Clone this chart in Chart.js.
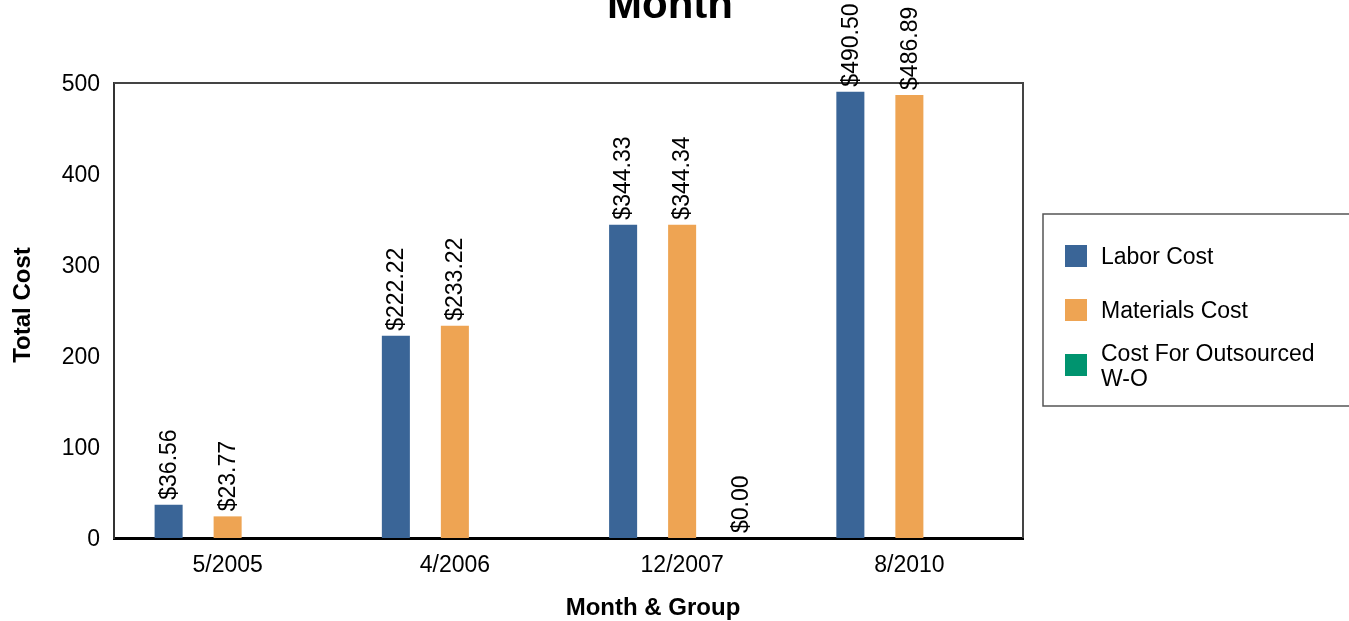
<!DOCTYPE html>
<html>
<head>
<meta charset="utf-8">
<script src="https://cdn.jsdelivr.net/npm/chart.js@4"></script>
<style>
html,body{margin:0;padding:0;background:#fff;}
#wrap{width:1349px;height:621px;position:relative;}
</style>
</head>
<body>
<div id="wrap"><canvas id="c" width="1349" height="621"></canvas></div>
<script>
const categories = ["5/2005", "4/2006", "12/2007", "8/2010"];
const laborCost = [36.56, 222.22, 344.33, 490.50];
const materialsCost = [23.77, 233.22, 344.34, 486.89];
const outsourcedCost = [null, null, 0.00, null];
const seriesNames = ["Labor Cost", "Materials Cost", ["Cost For Outsourced", "W-O"]];
const seriesColors = ["#3a6597", "#eea453", "#00946f"];
const yTicks = [0, 100, 200, 300, 400, 500];
const titleText = "Month";
const xTitle = "Month & Group";
const yTitle = "Total Cost";

const FONT = "'Liberation Sans', Arial, Helvetica, sans-serif";

const drawPlugin = {
  id: 'custom',
  afterDraw(chart) {
    const ctx = chart.ctx;
    const a = chart.chartArea;
    ctx.save();
    // plot frame top/right
    ctx.strokeStyle = '#444';
    ctx.lineWidth = 2;
    ctx.beginPath();
    ctx.moveTo(a.left, a.top);
    ctx.lineTo(a.right, a.top);
    ctx.lineTo(a.right, a.bottom);
    ctx.stroke();
    // value labels
    ctx.fillStyle = '#000';
    ctx.font = '23px ' + FONT;
    chart.data.datasets.forEach((ds, i) => {
      const meta = chart.getDatasetMeta(i);
      meta.data.forEach((el, j) => {
        const v = ds.data[j];
        if (v === null || v === undefined) return;
        ctx.save();
        ctx.translate(el.x, el.y - 5);
        ctx.rotate(-Math.PI / 2);
        ctx.textAlign = 'left';
        ctx.textBaseline = 'middle';
        ctx.fillText('$' + v.toFixed(2), 0, 1);
        ctx.restore();
      });
    });
    // title
    ctx.font = 'bold 42px ' + FONT;
    ctx.textAlign = 'center';
    ctx.textBaseline = 'alphabetic';
    ctx.fillText(titleText, 670, 18);
    // axis titles
    ctx.font = 'bold 24px ' + FONT;
    ctx.fillText(xTitle, 653, 615);
    ctx.save();
    ctx.translate(30, 305);
    ctx.rotate(-Math.PI / 2);
    ctx.fillText(yTitle, 0, 0);
    ctx.restore();
    // legend
    const lx = 1043, ly = 214, lh = 192;
    ctx.strokeStyle = '#555';
    ctx.lineWidth = 1.5;
    ctx.strokeRect(lx, ly, 330, lh);
    const rowY = [256, 310, 365];
    ctx.font = '23px ' + FONT;
    ctx.textAlign = 'left';
    ctx.textBaseline = 'middle';
    chart.data.datasets.forEach((ds, i) => {
      ctx.fillStyle = ds.backgroundColor;
      ctx.fillRect(1065, rowY[i] - 11, 22, 22);
      ctx.fillStyle = '#000';
      const lines = Array.isArray(ds.label) ? ds.label : [ds.label];
      const lhgt = 25;
      lines.forEach((t, k) => {
        const yy = rowY[i] - (lines.length - 1) * lhgt / 2 + k * lhgt;
        ctx.fillText(t, 1101, yy + 2);
      });
    });
    ctx.restore();
  }
};

new Chart(document.getElementById('c'), {
  type: 'bar',
  data: {
    labels: categories,
    datasets: [
      { label: seriesNames[0], data: laborCost, backgroundColor: seriesColors[0] },
      { label: seriesNames[1], data: materialsCost, backgroundColor: seriesColors[1] },
      { label: seriesNames[2], data: outsourcedCost, backgroundColor: seriesColors[2] }
    ]
  },
  options: {
    responsive: false,
    animation: false,
    devicePixelRatio: 1,
    layout: { padding: { left: 0, right: 326, top: 83, bottom: 0 } },
    datasets: { bar: { categoryPercentage: 0.779, barPercentage: 0.475 } },
    plugins: { legend: { display: false }, title: { display: false }, tooltip: { enabled: false } },
    scales: {
      x: {
        grid: { display: false, drawTicks: false },
        border: { display: true, color: '#000', width: 3 },
        ticks: { color: '#000', font: { size: 23, family: FONT }, padding: 14 },
        afterFit(s) { s.height = 83; }
      },
      y: {
        min: 0, max: 500,
        afterBuildTicks(s) { s.ticks = yTicks.map(v => ({ value: v })); },
        grid: { display: false, drawTicks: false },
        border: { display: true, color: '#333', width: 2 },
        ticks: { color: '#000', font: { size: 23, family: FONT }, padding: 14, labelOffset: 2 },
        afterFit(s) { s.width = 114; }
      }
    }
  },
  plugins: [drawPlugin]
});
</script>
</body>
</html>
